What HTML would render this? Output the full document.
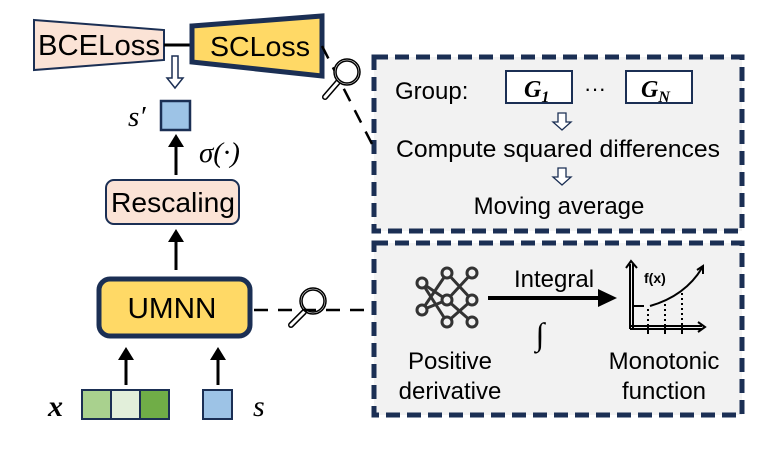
<!DOCTYPE html>
<html><head><meta charset="utf-8"><style>
html,body{margin:0;padding:0;background:#fff;}
svg{display:block;font-family:"Liberation Sans",sans-serif;}
.m{font-family:"Liberation Serif",serif;font-style:italic;}
</style></head><body>
<svg width="781" height="451" viewBox="0 0 781 451" xmlns="http://www.w3.org/2000/svg">
<!-- right boxes -->
<rect x="374" y="57" width="368" height="174" fill="#f2f2f2" stroke="#1b2f54" stroke-width="5" stroke-dasharray="14,7"/>
<rect x="374" y="243" width="368" height="172" fill="#f2f2f2" stroke="#1b2f54" stroke-width="5" stroke-dasharray="14,7"/>
<!-- losses -->
<polygon points="34,20 164,30 164,60 34,70" fill="#fbe3d6" stroke="#1b2f54" stroke-width="2"/>
<text x="99" y="55" font-size="29" text-anchor="middle" textLength="122" lengthAdjust="spacingAndGlyphs">BCELoss</text>
<line x1="164" y1="45" x2="192" y2="45" stroke="#000" stroke-width="3"/>
<polygon points="192,26 322,16 322,76 192,62" fill="#ffd966" stroke="#1b2f54" stroke-width="5"/>
<text x="260" y="56" font-size="28" text-anchor="middle" textLength="100" lengthAdjust="spacingAndGlyphs">SCLoss</text>
<!-- hollow arrow -->
<path d="M172,56 h6 v22 h5 l-8,10 l-8,-10 h5 z" fill="#fff" stroke="#1b2f54" stroke-width="1.5"/>
<!-- s' -->
<rect x="161" y="101" width="29" height="29" fill="#9dc3e6" stroke="#1b2f54" stroke-width="2.5"/>
<text x="128" y="126" font-size="29" class="m">s′</text>
<line x1="176" y1="175" x2="176" y2="145" stroke="#000" stroke-width="3"/>
<path d="M168,147 L176,134 L184,147 z"/>
<text x="199" y="162" font-size="29" class="m">σ(·)</text>
<!-- rescaling -->
<rect x="106" y="180" width="133" height="44" rx="8" fill="#fbe3d6" stroke="#1b2f54" stroke-width="2"/>
<text x="173" y="212" font-size="28" text-anchor="middle" textLength="124" lengthAdjust="spacingAndGlyphs">Rescaling</text>
<line x1="176" y1="270" x2="176" y2="240" stroke="#000" stroke-width="3"/>
<path d="M168,242 L176,229 L184,242 z"/>
<!-- UMNN -->
<rect x="99" y="279" width="151" height="57" rx="11" fill="#ffd966" stroke="#1b2f54" stroke-width="5"/>
<text x="172" y="318" font-size="29" text-anchor="middle" textLength="89" lengthAdjust="spacingAndGlyphs">UMNN</text>
<line x1="126" y1="385" x2="126" y2="358" stroke="#000" stroke-width="3"/>
<path d="M118,360 L126,347 L134,360 z"/>
<line x1="218" y1="385" x2="218" y2="358" stroke="#000" stroke-width="3"/>
<path d="M210,360 L218,347 L226,360 z"/>
<!-- inputs -->
<rect x="82" y="390" width="29" height="29" fill="#a9d18e" stroke="#1b2f54" stroke-width="2"/>
<rect x="111" y="390" width="29" height="29" fill="#e2efda" stroke="#1b2f54" stroke-width="2"/>
<rect x="140" y="390" width="29" height="29" fill="#70ad47" stroke="#1b2f54" stroke-width="2"/>
<rect x="203" y="390" width="29" height="29" fill="#9dc3e6" stroke="#1b2f54" stroke-width="2"/>
<text x="48" y="416" font-size="30" class="m" font-weight="bold">x</text>
<text x="253" y="416" font-size="30" class="m">s</text>
<!-- dashed connectors -->
<line x1="322" y1="46" x2="373" y2="146" stroke="#000" stroke-width="2.5" stroke-dasharray="14,10"/>
<line x1="254" y1="310" x2="373" y2="310" stroke="#000" stroke-width="2.5" stroke-dasharray="14,10"/>
<!-- magnifiers -->
<g fill="none" stroke="#000" stroke-width="1.5">
<line x1="338" y1="82" x2="325" y2="97" stroke-width="6" stroke-linecap="round"/>
<line x1="338" y1="82" x2="325" y2="97" stroke="#fff" stroke-width="3" stroke-linecap="round"/>
<circle cx="347" cy="72" r="13" fill="#fff"/>
<circle cx="347" cy="72" r="11"/>
<line x1="304" y1="312" x2="291" y2="325" stroke-width="6" stroke-linecap="round"/>
<line x1="304" y1="312" x2="291" y2="325" stroke="#fff" stroke-width="3" stroke-linecap="round"/>
<circle cx="313" cy="301" r="13"/>
<circle cx="313" cy="301" r="11"/>
</g>
<!-- top box contents -->
<text x="395" y="99" font-size="24">Group:</text>
<rect x="506" y="71" width="66" height="32" fill="#fff" stroke="#1b2f54" stroke-width="2"/>
<text x="524" y="97" font-size="24" class="m" font-weight="bold">G<tspan font-size="16" dy="5">1</tspan></text>
<text x="584" y="96" font-size="22">···</text>
<rect x="626" y="71" width="66" height="32" fill="#fff" stroke="#1b2f54" stroke-width="2"/>
<text x="641" y="97" font-size="24" class="m" font-weight="bold">G<tspan font-size="16" dy="5">N</tspan></text>
<path d="M558,113 h8 v9 h5 l-9,8 l-9,-8 h5 z" fill="#fff" stroke="#1b2f54" stroke-width="1.3"/>
<text x="558" y="157" font-size="24" text-anchor="middle" textLength="324" lengthAdjust="spacingAndGlyphs">Compute squared differences</text>
<path d="M558,168 h8 v9 h5 l-9,8 l-9,-8 h5 z" fill="#fff" stroke="#1b2f54" stroke-width="1.3"/>
<text x="559" y="214" font-size="24" text-anchor="middle">Moving average</text>
<!-- network icon -->
<g stroke="#333" stroke-width="3" fill="none">
<line x1="422" y1="283" x2="447" y2="300"/><line x1="422" y1="310" x2="447" y2="300"/>
<line x1="422" y1="283" x2="447" y2="322"/><line x1="422" y1="310" x2="447" y2="273"/>
<line x1="447" y1="273" x2="472" y2="300"/><line x1="447" y1="300" x2="472" y2="273"/>
<line x1="447" y1="300" x2="472" y2="322"/><line x1="447" y1="322" x2="472" y2="300"/>
<g fill="#f2f2f2">
<circle cx="422" cy="283" r="5"/><circle cx="422" cy="310" r="5"/>
<circle cx="447" cy="273" r="5"/><circle cx="447" cy="300" r="5"/><circle cx="447" cy="322" r="5"/>
<circle cx="472" cy="273" r="5"/><circle cx="472" cy="300" r="5"/><circle cx="472" cy="322" r="5"/>
</g></g>
<text x="450" y="369" font-size="24" text-anchor="middle">Positive</text>
<text x="450" y="399" font-size="24" text-anchor="middle">derivative</text>
<!-- integral arrow -->
<line x1="488" y1="298" x2="600" y2="298" stroke="#000" stroke-width="4"/>
<path d="M598,289 L617,298 L598,307 z"/>
<text x="554" y="287" font-size="24" text-anchor="middle">Integral</text>
<text x="540" y="345" font-size="32" class="m" text-anchor="middle">∫</text>
<!-- graph icon -->
<g stroke="#000" stroke-width="2" fill="none">
<path d="M630,329 V264 M633,329 V264 M626,268 L631,261 L637,268"/>
<path d="M630,329 H702 M630,326 H702 M698,322 L705,327 L698,332"/>
<line x1="633" y1="306" x2="644" y2="306"/>
<path d="M650,306 Q685,296 702,268"/>
<path d="M697,270 L703,266 L703,274"/>
<g stroke-dasharray="2,3"><line x1="648" y1="309" x2="648" y2="326"/><line x1="665" y1="304" x2="665" y2="326"/><line x1="682" y1="293" x2="682" y2="326"/></g>
<line x1="648" y1="326" x2="648" y2="334"/><line x1="665" y1="326" x2="665" y2="334"/><line x1="682" y1="326" x2="682" y2="334"/>
</g>
<text x="644" y="283" font-size="14" font-weight="bold">f(x)</text>
<text x="664" y="369" font-size="24" text-anchor="middle">Monotonic</text>
<text x="664" y="399" font-size="24" text-anchor="middle">function</text>
</svg>
</body></html>
